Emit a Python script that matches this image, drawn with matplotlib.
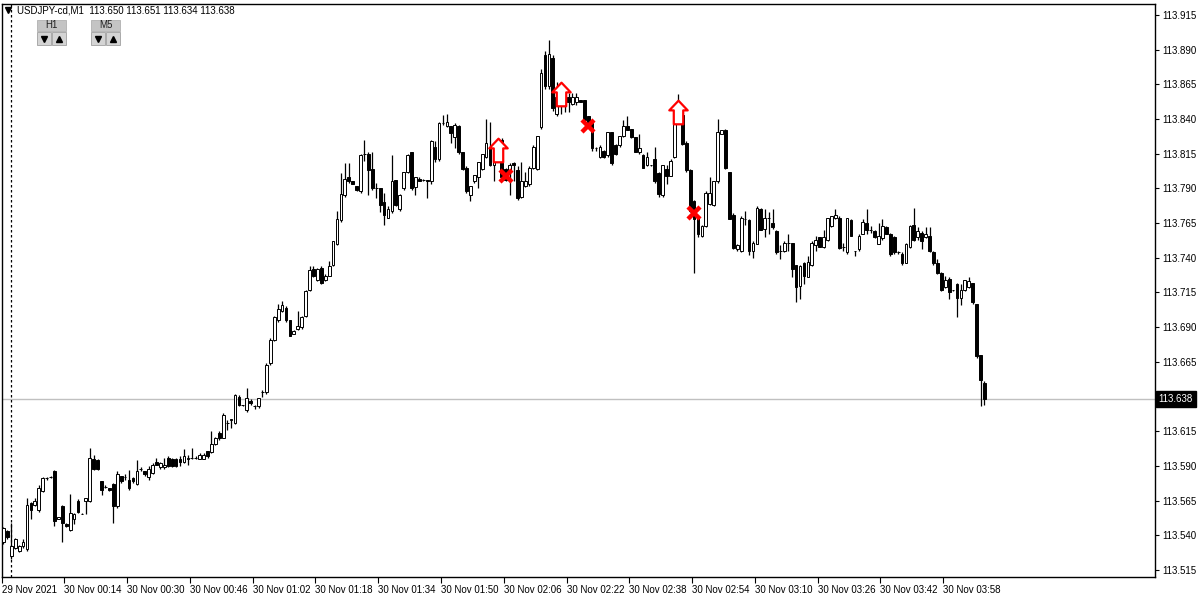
import matplotlib.pyplot as plt
import numpy as np
import pandas as pd
from matplotlib.path import Path
from matplotlib.patches import Rectangle

plt.rcParams['font.family'] = ['Liberation Sans', 'DejaVu Sans']

symbol = "USDJPY-cd,M1"
base = 113.500
# M1 bars from 29 Nov 23:58, prices in points (0.001) above 113.500
opens = [35, 43, 25, 31, 29, 32, 30, 63, 62, 58, 72, 81, 82, 86, 52, 61, 48, 44, 52, 65,
         55, 65, 65, 95, 94, 79, 75, 74, 77, 61, 83, 82, 80, 81, 77, 88, 86, 82, 85, 93,
         89, 89, 96, 95, 95, 95, 93, 95, 96, 96, 95, 95, 101, 100, 106, 114, 110, 121, 123, 121,
         140, 134, 130, 137, 133, 133, 143, 143, 164, 181, 195, 202, 204, 195, 185, 189, 190, 198, 217, 232,
         224, 233, 224, 227, 235, 250, 267, 285, 298, 295, 292, 288, 315, 315, 304, 290, 290, 280, 269, 274,
         296, 275, 290, 302, 316, 291, 297, 296, 296, 295, 320, 311, 337, 335, 335, 327, 335, 316, 305, 285,
         295, 298, 304, 313, 319, 307, 310, 325, 304, 303, 308, 303, 284, 292, 293, 305, 304, 334, 386, 364,
         384, 344, 358, 353, 356, 351, 352, 354, 354, 342, 337, 319, 313, 317, 314, 331, 321, 321, 328, 335,
         333, 327, 316, 314, 307, 307, 311, 301, 285, 304, 299, 313, 344, 343, 323, 303, 281, 269, 256, 263,
         279, 278, 295, 329, 332, 302, 271, 246, 245, 268, 267, 245, 250, 275, 261, 269, 265, 259, 245, 245,
         251, 251, 235, 220, 236, 226, 235, 249, 255, 248, 253, 263, 269, 269, 248, 244, 267, 245, 246, 257,
         265, 260, 259, 250, 254, 262, 257, 255, 244, 243, 236, 248, 264, 255, 258, 255, 256, 244, 236, 229,
         219, 225, 217, 221, 211, 217, 219, 222, 207, 170, 150]
highs = [46, 44, 49, 38, 33, 37, 67, 64, 67, 76, 82, 82, 83, 87, 53, 62, 49, 70, 56, 66,
         56, 67, 103, 98, 95, 79, 76, 74, 78, 86, 83, 84, 87, 82, 94, 89, 86, 90, 92, 96,
         93, 96, 97, 96, 96, 97, 102, 98, 103, 97, 99, 99, 101, 115, 111, 115, 128, 123, 124, 142,
         141, 134, 146, 138, 134, 139, 145, 164, 182, 198, 207, 209, 205, 195, 188, 202, 198, 217, 234, 234,
         233, 234, 228, 238, 252, 274, 301, 308, 308, 295, 292, 315, 325, 316, 316, 294, 290, 287, 277, 314,
         296, 286, 302, 315, 316, 298, 298, 297, 296, 325, 324, 338, 343, 344, 335, 337, 336, 316, 306, 292,
         300, 309, 315, 340, 338, 316, 325, 326, 305, 308, 309, 306, 309, 302, 306, 321, 328, 376, 389, 397,
         386, 367, 365, 359, 359, 359, 359, 354, 354, 342, 338, 320, 321, 318, 331, 331, 322, 328, 339, 342,
         333, 327, 329, 315, 316, 307, 320, 302, 307, 307, 311, 344, 358, 344, 324, 304, 282, 270, 264, 288,
         298, 295, 340, 332, 333, 302, 272, 250, 270, 274, 268, 252, 277, 276, 275, 273, 275, 260, 249, 252,
         257, 251, 235, 235, 237, 241, 252, 256, 255, 260, 269, 270, 275, 270, 251, 269, 268, 245, 257, 268,
         275, 263, 260, 265, 268, 263, 258, 256, 245, 244, 251, 264, 276, 262, 259, 262, 262, 245, 239, 230,
         227, 226, 217, 222, 221, 224, 226, 222, 207, 170, 151]
lows = [34, 37, 23, 30, 28, 31, 29, 52, 61, 57, 71, 80, 81, 47, 52, 35, 46, 43, 48, 56,
        55, 55, 64, 87, 87, 69, 74, 72, 49, 60, 78, 80, 73, 78, 76, 86, 83, 80, 84, 91,
        88, 88, 89, 89, 89, 90, 92, 91, 95, 95, 95, 95, 96, 99, 105, 109, 110, 116, 117, 120,
        133, 133, 129, 134, 131, 132, 140, 142, 163, 180, 194, 201, 194, 184, 185, 188, 189, 197, 216, 226,
        223, 221, 223, 227, 234, 249, 266, 284, 294, 293, 288, 287, 310, 285, 289, 283, 273, 264, 269, 272,
        277, 274, 289, 301, 289, 285, 295, 295, 283, 293, 309, 310, 336, 334, 323, 319, 315, 303, 287, 281,
        294, 290, 303, 312, 306, 295, 309, 297, 295, 285, 295, 282, 283, 291, 292, 304, 303, 333, 362, 362,
        346, 342, 344, 345, 345, 350, 350, 352, 338, 337, 317, 317, 312, 312, 313, 307, 314, 320, 327, 332,
        326, 316, 315, 305, 306, 306, 294, 284, 284, 293, 299, 312, 343, 321, 302, 273, 229, 255, 255, 262,
        278, 277, 294, 329, 304, 268, 246, 245, 244, 264, 242, 240, 250, 260, 255, 257, 261, 243, 239, 244,
        245, 226, 208, 210, 221, 226, 234, 245, 248, 247, 252, 262, 268, 246, 245, 243, 256, 241, 245, 257,
        257, 258, 254, 250, 253, 257, 241, 243, 243, 235, 236, 247, 252, 253, 246, 254, 244, 235, 228, 216,
        218, 210, 216, 197, 206, 216, 218, 207, 168, 133, 134]
closes = [45, 39, 32, 37, 32, 35, 62, 58, 65, 74, 81, 81, 82, 50, 53, 49, 47, 56, 55, 57,
          55, 67, 96, 88, 88, 73, 75, 73, 61, 84, 79, 82, 74, 79, 86, 88, 84, 88, 91, 91,
          92, 91, 90, 90, 90, 93, 97, 96, 96, 96, 98, 98, 97, 106, 110, 110, 127, 121, 124, 141,
          134, 134, 139, 135, 133, 139, 143, 163, 181, 197, 203, 206, 195, 184, 187, 191, 197, 216, 231, 227,
          232, 222, 227, 234, 252, 268, 286, 297, 295, 293, 289, 314, 315, 303, 290, 290, 278, 271, 275, 295,
          278, 285, 302, 314, 290, 298, 295, 296, 295, 324, 311, 337, 337, 338, 330, 336, 316, 304, 288, 292,
          300, 309, 315, 323, 307, 315, 323, 298, 296, 307, 307, 283, 295, 295, 305, 320, 328, 373, 364, 387,
          348, 356, 361, 356, 352, 356, 356, 352, 339, 338, 319, 319, 320, 313, 331, 308, 315, 328, 335, 332,
          327, 316, 319, 305, 313, 307, 295, 286, 307, 299, 310, 344, 347, 322, 303, 274, 268, 257, 263, 287,
          287, 295, 331, 332, 305, 268, 247, 249, 269, 268, 245, 251, 276, 260, 269, 269, 262, 244, 245, 251,
          251, 232, 219, 234, 227, 237, 251, 253, 248, 255, 269, 270, 271, 247, 248, 269, 256, 245, 256, 266,
          260, 260, 255, 256, 263, 257, 243, 244, 244, 236, 250, 263, 253, 259, 252, 257, 245, 236, 229, 217,
          224, 215, 217, 211, 217, 224, 223, 208, 169, 152, 138]

times = pd.date_range("2021-11-29 23:58", periods=len(opens), freq="min")

# signal objects on the chart: bar index and price in points
buy_idx = [126, 142, 172]
buy_pts = [318, 358, 345]
sell_idx = [128, 149, 176]
sell_pts = [299, 335, 272]

yticks = [113.515, 113.540, 113.565, 113.590, 113.615, 113.640, 113.665, 113.690, 113.715,
          113.740, 113.765, 113.790, 113.815, 113.840, 113.865, 113.890, 113.915]

o = base + np.array(opens) / 1000
h = base + np.array(highs) / 1000
l = base + np.array(lows) / 1000
c = base + np.array(closes) / 1000
x = np.arange(len(o))
bid = c[-1]

W, H = 1200, 598
fig = plt.figure(figsize=(W / 100, H / 100), dpi=100)
ax = fig.add_axes([1.5 / W, (H - 577) / H, (1155 - 1.5) / W, (577 - 4) / H])


def px(xp, yp):
    return xp / W, 1 - yp / H


# candles
up = c >= o
ax.vlines(x, l, h, color='black', lw=0.9, zorder=2)
ax.bar(x[up], (c - o)[up], bottom=o[up], width=0.7, facecolor='white',
       edgecolor='black', lw=0.7, zorder=3)
ax.bar(x[~up], (o - c)[~up], bottom=c[~up], width=0.7, facecolor='black',
       edgecolor='black', lw=0.7, zorder=3)

# bid line and day separator
ax.axhline(bid, color='#c0c0c0', lw=1, zorder=1)
day_start = np.where((times.hour == 0) & (times.minute == 0))[0]
for d in day_start:
    ax.axvline(d, color='black', lw=0.9, ls=(0, (2, 2)), zorder=1)

# signal markers
arrow = Path([(0, 1), (0.78, 0.18), (0.4, 0.18), (0.4, -1), (-0.4, -1), (-0.4, 0.18),
              (-0.78, 0.18), (0, 1)],
             [Path.MOVETO] + [Path.LINETO] * 6 + [Path.CLOSEPOLY])
ax.plot(buy_idx, base + np.array(buy_pts) / 1000, ls='none', marker=arrow, ms=17,
        mfc='white', mec='#ff0000', mew=1.6, zorder=5)
ax.plot(sell_idx, base + np.array(sell_pts) / 1000, ls='none', marker='x', ms=9,
        mec='#ff0000', mew=3.2, zorder=5)

ax.set_xlim((1.5 - 2) / 3.929, (1155 - 2) / 3.929)
ax.set_ylim(113.515 - 7 / 1387.5, 113.515 + 566 / 1387.5)

# axes styling
for s in ax.spines.values():
    s.set_color('black')
    s.set_linewidth(1)
ax.yaxis.tick_right()
ax.set_yticks(yticks)
# the tick under the current price box carries no visible label
ax.set_yticklabels(["" if abs(v - bid) < 0.01 else f"{v:.3f}" for v in yticks])
ax.tick_params(axis='y', direction='out', length=3, width=0.8, labelsize=7, pad=2)

tick_bars = x[::16]
labels = [times[0].strftime("%d %b %Y")] + [t.strftime("%d %b %H:%M") for t in times[16::16]]
ax.set_xticks(tick_bars - 0.5)
ax.set_xticklabels(labels)
ax.tick_params(axis='x', direction='out', length=4, width=0.8, labelsize=7, pad=1.5)
for t in ax.get_xticklabels():
    t.set_ha('left')

# current price label on the price scale
ax.annotate(f"{bid:.3f}", xy=(1, bid), xycoords=('axes fraction', 'data'),
            xytext=(2.5, 0), textcoords='offset points', ha='left', va='center',
            color='white', fontsize=7,
            bbox=dict(boxstyle='square,pad=0.3', fc='black', ec='black'),
            annotation_clip=False, zorder=10)

# header with last bar OHLC
header = f"{symbol}  {o[-1]:.3f} {h[-1]:.3f} {l[-1]:.3f} {c[-1]:.3f}"
fig.text(*px(17, 10.5), header, fontsize=7, va='center', ha='left')
fig.add_artist(plt.Line2D([px(8, 10)[0]], [px(8, 10)[1]], marker='v', ms=4,
                          color='black', transform=fig.transFigure))

# timeframe buttons
for x0, name in [(37, "H1"), (91, "M5")]:
    fig.add_artist(Rectangle(px(x0, 31), 29 / W, 11 / H, transform=fig.transFigure,
                             fc='#c4c4c4', ec='#b0b0b0', lw=0.6))
    fig.text(*px(x0 + 14.5, 25.5), name, fontsize=7, ha='center', va='center', color='#202020')
    for bx, mk in [(x0, 'v'), (x0 + 15, '^')]:
        fig.add_artist(Rectangle(px(bx, 45), 14 / W, 13 / H, transform=fig.transFigure,
                                 fc='#d4d4d4', ec='#a0a0a0', lw=0.6))
        fig.add_artist(plt.Line2D([px(bx + 7, 38.5)[0]], [px(bx + 7, 38.5)[1]], marker=mk,
                                  ms=4.5, color='black', transform=fig.transFigure))

fig.savefig("out.png", dpi=100)
